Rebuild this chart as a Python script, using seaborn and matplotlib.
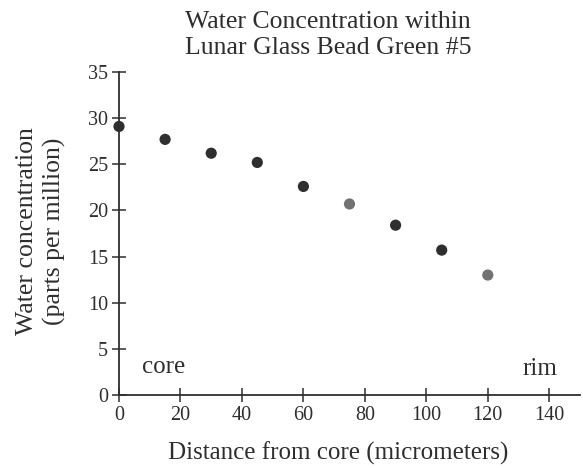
import pandas as pd
import matplotlib
matplotlib.use("Agg")
import matplotlib.pyplot as plt
import seaborn as sns

# data
distance = [0, 15, 30, 45, 60, 75, 90, 105, 120]
water_ppm = [29.1, 27.7, 26.2, 25.2, 22.6, 20.7, 18.4, 15.7, 13.0]
shade = ["dark", "dark", "dark", "dark", "dark", "light", "dark", "dark", "light"]
x_ticks = [0, 20, 40, 60, 80, 100, 120, 140]
y_ticks = [0, 5, 10, 15, 20, 25, 30, 35]

df = pd.DataFrame({"distance": distance, "water": water_ppm, "shade": shade})

sns.set_theme(style="white")
plt.rcParams["font.family"] = ["Liberation Serif", "DejaVu Serif"]
ink = "#2e2e2e"

fig = plt.figure(figsize=(5.83, 4.68), dpi=100)
ax = fig.add_axes([119 / 583, 1 - 395 / 468, 461 / 583, 323 / 468])

sns.scatterplot(data=df, x="distance", y="water", hue="shade",
                palette={"dark": "#2f2f2f", "light": "#727272"},
                s=65, edgecolor="none", legend=False, ax=ax, clip_on=False)

ax.set_xlim(0, 150)
ax.set_ylim(0, 35)
ax.set_xticks(x_ticks)
ax.set_yticks(y_ticks)
ax.tick_params(axis="both", bottom=True, left=True, direction="inout",
               length=10, width=1.1, colors=ink, labelsize=14.5, pad=3)
ax.tick_params(axis="x", pad=3)
for side in ["top", "right"]:
    ax.spines[side].set_visible(False)
for side in ["left", "bottom"]:
    ax.spines[side].set_color(ink)
    ax.spines[side].set_linewidth(1.3)
ax.set_xlabel("")
ax.set_ylabel("")

fig.text(328 / 583, 1 - 35 / 468, "Water Concentration within\nLunar Glass Bead Green #5",
         ha="center", va="center", fontsize=18.5, color=ink, linespacing=1.2)
fig.text(41 / 583, 1 - 231 / 468, "Water concentration\n(parts per million)",
         rotation=90, ha="center", va="center", fontsize=18.5, color=ink,
         linespacing=1.25)
fig.text(338 / 583, 1 - 453 / 468, "Distance from core (micrometers)",
         ha="center", va="center", fontsize=18, color=ink)
fig.text(164 / 583, 1 - 367 / 468, "core", ha="center", va="center",
         fontsize=18, color=ink)
fig.text(540 / 583, 1 - 369 / 468, "rim", ha="center", va="center",
         fontsize=18, color=ink)

fig.savefig("out.png", dpi=100)
